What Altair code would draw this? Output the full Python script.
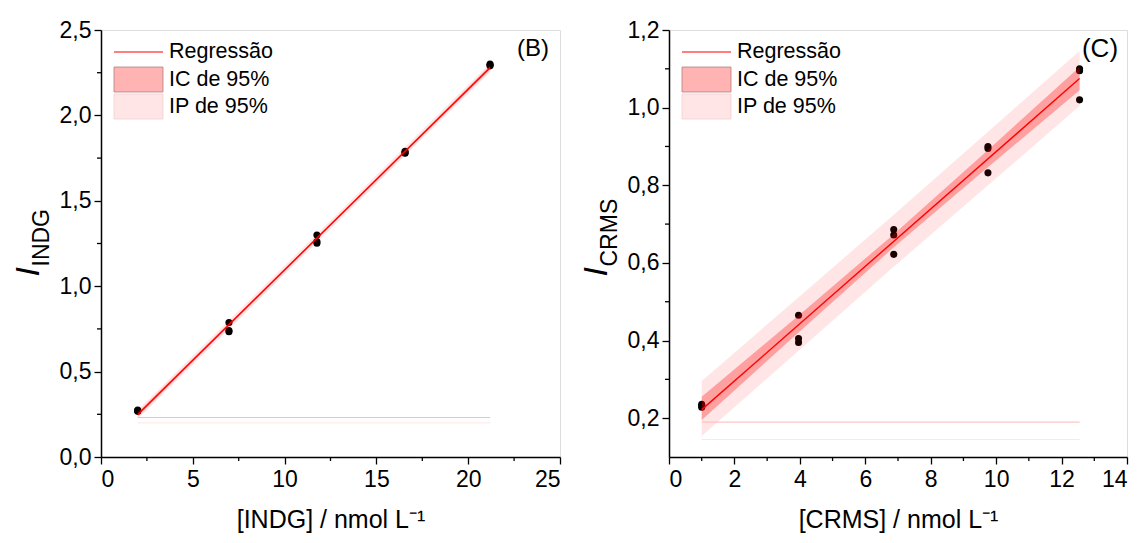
import altair as alt
import pandas as pd

FONT = "Liberation Sans, Arial, sans-serif"

# ---------------- Panel B (INDG) ----------------
b_x = [2.0, 2.0, 2.0, 6.97, 6.97, 6.97, 11.76, 11.76, 11.76, 16.56, 16.56, 16.56, 21.19, 21.19, 21.19]
b_y = [0.275, 0.270, 0.268, 0.787, 0.733, 0.740, 1.300, 1.252, 1.262, 1.790, 1.782, 1.778, 2.300, 2.290, 2.295]
b_band_x = [2.0, 6.97, 11.7, 16.6, 21.2]
b_ci_lo = [0.237, 0.766, 1.268, 1.785, 2.268]
b_ci_hi = [0.260, 0.783, 1.282, 1.802, 2.292]
b_pi_lo = [0.222, 0.749, 1.250, 1.768, 2.254]
b_pi_hi = [0.275, 0.800, 1.300, 1.819, 2.306]
b_base_y = [0.231, 0.200]
b_x_ticks = [0, 5, 10, 15, 20, 25]
b_x_minor = [2.5, 7.5, 12.5, 17.5, 22.5]
b_y_ticks = [0.0, 0.5, 1.0, 1.5, 2.0, 2.5]
b_y_minor = [0.25, 0.75, 1.25, 1.75, 2.25]

# ---------------- Panel C (CRMS) ----------------
c_x = [1.0, 1.0, 1.0, 3.96, 3.96, 3.96, 6.87, 6.87, 6.87, 9.75, 9.75, 9.75, 12.55, 12.55, 12.55]
c_y = [0.236, 0.232, 0.228, 0.465, 0.405, 0.395, 0.686, 0.672, 0.622, 0.900, 0.895, 0.832, 1.100, 1.095, 1.020]
c_band_x = [1.0, 3.9, 6.8, 9.7, 12.55]
c_ci_lo = [0.195, 0.416, 0.635, 0.843, 1.045]
c_ci_hi = [0.255, 0.460, 0.669, 0.887, 1.105]
c_pi_lo = [0.154, 0.369, 0.585, 0.796, 1.004]
c_pi_hi = [0.296, 0.507, 0.719, 0.934, 1.146]
c_base_y = [0.190, 0.145]
c_x_ticks = [0, 2, 4, 6, 8, 10, 12, 14]
c_x_minor = [1, 3, 5, 7, 9, 11, 13]
c_y_ticks = [0.2, 0.4, 0.6, 0.8, 1.0, 1.2]
c_y_minor = [0.3, 0.5, 0.7, 0.9, 1.1]

legend_labels = ["Regressão", "IC de 95%", "IP de 95%"]

H = 427


def panel(px, py, bx, cilo, cihi, pilo, pihi, base_y, xdom, ydom, xt, xm, yt, ym,
          xtitle, ysub, tag, W, ydec, tagsize):
    pts = pd.DataFrame({"x": px, "y": py})
    band = pd.DataFrame({"x": bx, "cl": cilo, "ch": cihi, "pl": pilo, "ph": pihi})
    base = pd.DataFrame({"x": [bx[0]] * len(base_y), "x2": [bx[-1]] * len(base_y), "y": base_y,
                         "k": list(range(len(base_y)))})
    one = pd.DataFrame({"a": [0]})

    X = alt.X("x:Q", scale=alt.Scale(domain=xdom, nice=False, zero=False),
              axis=alt.Axis(values=xt, title=xtitle, format="d", tickSize=7, tickWidth=1.3,
                            domainWidth=1.5, domainColor="black", tickColor="black",
                            labelFont=FONT, labelFontSize=23, labelColor="black", labelPadding=4,
                            titleFont=FONT, titleFontSize=25, titleFontWeight="normal",
                            titleColor="black", titlePadding=16, grid=False))
    lab = f"replace(format(datum.value, '.{ydec}f'), '.', ',')"
    Y = alt.Y("y:Q", scale=alt.Scale(domain=ydom, nice=False, zero=False),
              axis=alt.Axis(values=yt, title=None, labelExpr=lab, tickSize=7, tickWidth=1.3,
                            domainWidth=1.5, domainColor="black", tickColor="black",
                            labelFont=FONT, labelFontSize=23, labelColor="black", labelPadding=3,
                            grid=False))

    points = alt.Chart(pts).mark_circle(size=50, color="black", opacity=1).encode(x=X, y=Y)
    ip = alt.Chart(band).mark_area(color="red", opacity=0.1).encode(
        x=X, y=alt.Y("pl:Q", scale=alt.Scale(domain=ydom, nice=False, zero=False)), y2="ph:Q")
    ic = alt.Chart(band).mark_area(color="red", opacity=0.3).encode(
        x=X, y=alt.Y("cl:Q", scale=alt.Scale(domain=ydom, nice=False, zero=False)), y2="ch:Q")
    basel = alt.Chart(base).mark_rule(strokeWidth=1).encode(
        x=X, x2="x2:Q", y=Y,
        color=alt.Color("k:N", scale=alt.Scale(domain=[0, 1], range=["#ffb6b6", "#ffe6e6"]), legend=None))
    line = alt.Chart(pts).transform_regression("x", "y", extent=[bx[0], bx[-1]]).mark_line(
        color="#ff0000", strokeWidth=1.4).encode(x=X, y=Y)

    xminor = alt.Chart(pd.DataFrame({"x": xm})).mark_rule(color="black", strokeWidth=1.3).encode(
        x=X, y=alt.value(H), y2=alt.value(H + 4))
    yminor = alt.Chart(pd.DataFrame({"y": ym})).mark_rule(color="black", strokeWidth=1.3).encode(
        y=Y, x=alt.value(0), x2=alt.value(-4))

    # y title: italic I with subscript
    t_i = alt.Chart(one).mark_text(angle=270, align="left", baseline="alphabetic", font=FONT,
                                   fontSize=34, fontStyle="italic", color="black").encode(
        x=alt.value(-62), y=alt.value(H / 2 + 33), text=alt.value("I"))
    t_s = alt.Chart(one).mark_text(angle=270, align="left", baseline="alphabetic", font=FONT,
                                   fontSize=23, color="black").encode(
        x=alt.value(-52), y=alt.value(H / 2 + 23), text=alt.value(ysub))

    tagm = alt.Chart(one).mark_text(align="center", baseline="middle", font=FONT, fontSize=tagsize,
                                    color="black").encode(
        x=alt.value(W - 27), y=alt.value(19), text=alt.value(tag))

    # legend
    lg_line = alt.Chart(one).mark_rule(color="#ff0000", strokeWidth=1.2).encode(
        x=alt.value(13), x2=alt.value(62), y=alt.value(22))
    lg_ic = alt.Chart(one).mark_rect(fill="#ffb3b3", stroke="#b08080", strokeWidth=0.8).encode(
        x=alt.value(13), x2=alt.value(62), y=alt.value(37), y2=alt.value(62))
    lg_ip = alt.Chart(one).mark_rect(fill="#ffe5e5", stroke="#f0d0d0", strokeWidth=0.8).encode(
        x=alt.value(13), x2=alt.value(62), y=alt.value(64), y2=alt.value(89))
    lg_t = [alt.Chart(one).mark_text(align="left", baseline="middle", font=FONT, fontSize=21.5,
                                     color="black").encode(
        x=alt.value(68), y=alt.value(yy), text=alt.value(t))
        for t, yy in zip(legend_labels, [22, 50, 77])]

    return alt.layer(points, ip, ic, basel, line, xminor, yminor, t_i, t_s, tagm,
                     lg_line, lg_ic, lg_ip, *lg_t).properties(width=W, height=H)


left = panel(b_x, b_y, b_band_x, b_ci_lo, b_ci_hi, b_pi_lo, b_pi_hi, b_base_y, [0, 25], [0, 2.5],
             b_x_ticks, b_x_minor, b_y_ticks, b_y_minor, "[INDG] / nmol L⁻¹", "INDG", "(B)", 459, 1, 24)
right = panel(c_x, c_y, c_band_x, c_ci_lo, c_ci_hi, c_pi_lo, c_pi_hi, c_base_y, [0, 14], [0.1, 1.2],
              c_x_ticks, c_x_minor, c_y_ticks, c_y_minor, "[CRMS] / nmol L⁻¹", "CRMS", "(C)", 458, 1, 26)

chart = alt.hconcat(left, right, spacing=17).properties(
    padding={"left": 11, "top": 18, "right": 0, "bottom": 0}
).configure_view(stroke="black", strokeWidth=1.5).configure(background="white")

chart.save("out.html", embed_options={"renderer": "svg", "actions": False})
